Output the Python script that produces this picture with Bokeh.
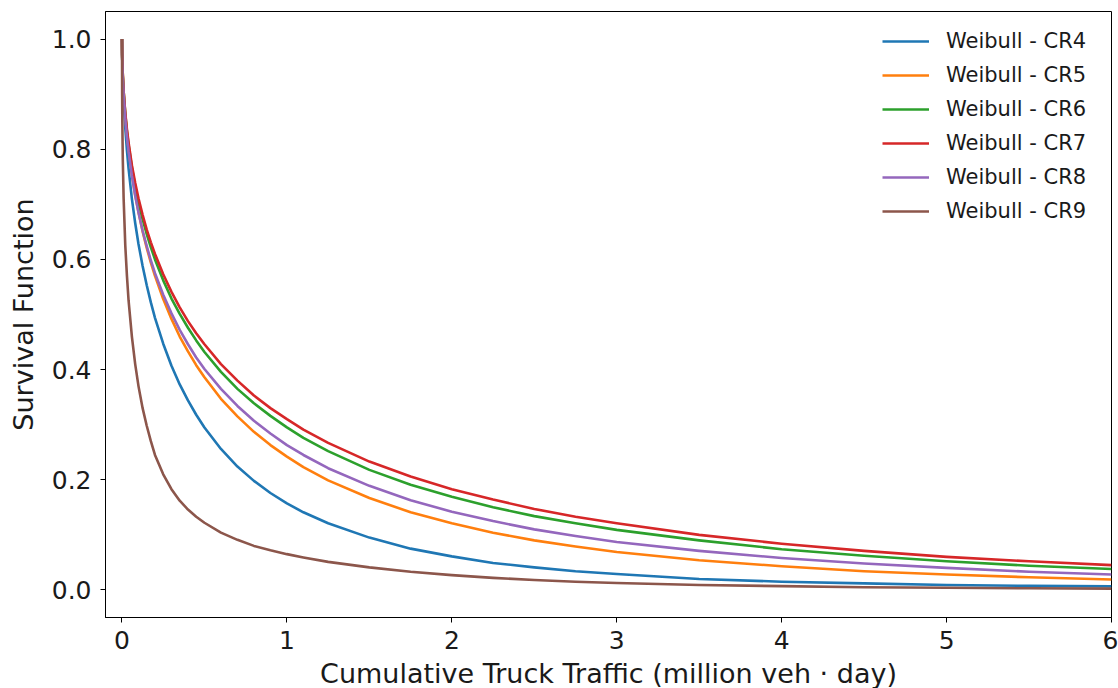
from bokeh.plotting import figure
from bokeh.models import Range1d, FixedTicker, NumeralTickFormatter, Legend, LegendItem
from bokeh.embed import file_html
from bokeh.resources import INLINE

# Cumulative truck traffic (million veh · day)
x = [0.0, 0.001, 0.002, 0.005, 0.01, 0.02, 0.03, 0.04, 0.06, 0.08,
     0.1, 0.125, 0.15, 0.175, 0.2, 0.25, 0.3, 0.35, 0.4, 0.45,
     0.5, 0.6, 0.7, 0.8, 0.9, 1.0, 1.1, 1.25, 1.5, 1.75,
     2.0, 2.25, 2.5, 2.75, 3.0, 3.5, 4.0, 4.5, 5.0, 5.5, 6.0]

# Survival function, one list per series
cr4 = [1.0, 0.971, 0.957, 0.926, 0.890, 0.838, 0.798, 0.765, 0.710, 0.666,
       0.628, 0.588, 0.553, 0.522, 0.494, 0.447, 0.407, 0.373, 0.344, 0.318,
       0.295, 0.256, 0.224, 0.198, 0.176, 0.157, 0.141, 0.121, 0.095, 0.075,
       0.061, 0.049, 0.041, 0.034, 0.029, 0.020, 0.015, 0.012, 0.009, 0.0075, 0.0065]
cr5 = [1.0, 0.974, 0.961, 0.935, 0.904, 0.861, 0.828, 0.800, 0.755, 0.717,
       0.686, 0.651, 0.621, 0.594, 0.570, 0.528, 0.492, 0.460, 0.433, 0.408,
       0.386, 0.347, 0.315, 0.287, 0.263, 0.242, 0.223, 0.199, 0.167, 0.141,
       0.121, 0.104, 0.090, 0.079, 0.069, 0.054, 0.043, 0.034, 0.028, 0.023, 0.019]
cr6 = [1.0, 0.972, 0.959, 0.933, 0.904, 0.864, 0.833, 0.808, 0.767, 0.733,
       0.704, 0.673, 0.646, 0.622, 0.600, 0.562, 0.529, 0.501, 0.476, 0.453,
       0.432, 0.396, 0.365, 0.339, 0.316, 0.295, 0.276, 0.252, 0.218, 0.191,
       0.169, 0.150, 0.134, 0.121, 0.109, 0.090, 0.074, 0.062, 0.052, 0.044, 0.038]
cr7 = [1.0, 0.972, 0.959, 0.934, 0.905, 0.866, 0.836, 0.812, 0.771, 0.739,
       0.711, 0.681, 0.654, 0.631, 0.610, 0.573, 0.541, 0.513, 0.488, 0.466,
       0.446, 0.410, 0.380, 0.353, 0.330, 0.310, 0.291, 0.267, 0.233, 0.206,
       0.183, 0.164, 0.147, 0.133, 0.121, 0.100, 0.084, 0.071, 0.060, 0.052, 0.045]
cr8 = [1.0, 0.970, 0.957, 0.929, 0.899, 0.855, 0.823, 0.796, 0.752, 0.716,
       0.685, 0.652, 0.624, 0.598, 0.575, 0.536, 0.502, 0.472, 0.446, 0.422,
       0.401, 0.365, 0.334, 0.307, 0.284, 0.263, 0.245, 0.221, 0.189, 0.163,
       0.142, 0.125, 0.110, 0.098, 0.087, 0.071, 0.058, 0.048, 0.040, 0.033, 0.028]
cr9 = [1.0, 0.90, 0.85, 0.78, 0.71, 0.625, 0.57, 0.525, 0.46, 0.41,
       0.37, 0.33, 0.298, 0.27, 0.245, 0.21, 0.183, 0.162, 0.146, 0.133,
       0.122, 0.104, 0.091, 0.080, 0.072, 0.065, 0.059, 0.051, 0.041, 0.033,
       0.027, 0.022, 0.018, 0.015, 0.0125, 0.009, 0.007, 0.005, 0.004, 0.003, 0.0025]

series = [("Weibull - CR4", cr4), ("Weibull - CR5", cr5), ("Weibull - CR6", cr6),
          ("Weibull - CR7", cr7), ("Weibull - CR8", cr8), ("Weibull - CR9", cr9)]
colors = ["#1f77b4", "#ff7f0e", "#2ca02c", "#d62728", "#9467bd", "#8c564b"]
x_ticks = [0, 1, 2, 3, 4, 5, 6]
y_ticks = [0.0, 0.2, 0.4, 0.6, 0.8, 1.0]

FONT = "DejaVu Sans"
TXT = "#1a1a1a"

p = figure(frame_width=1006, frame_height=606, output_backend="svg", toolbar_location=None,
           x_range=Range1d(-0.1, 6.0), y_range=Range1d(-0.05, 1.05),
           min_border_left=105, min_border_right=7, min_border_top=11, min_border_bottom=71,
           background_fill_color="white", border_fill_color="white")
p.grid.visible = False
p.outline_line_color = "#000000"
p.outline_line_width = 1

items = []
for (name, ys), c in zip(series, colors):
    r = p.line(x, ys, line_color=c, line_width=2.6, line_join="round")
    items.append(LegendItem(label=name, renderers=[r]))

for ax in (p.xaxis[0], p.yaxis[0]):
    ax.axis_line_color = "#000000"
    ax.major_tick_line_color = "#000000"
    ax.major_tick_in = 0
    ax.major_tick_out = 5
    ax.minor_tick_line_color = None
    ax.major_label_text_font = FONT
    ax.major_label_text_font_size = "25px"
    ax.major_label_text_color = TXT
    ax.axis_label_text_font = FONT
    ax.axis_label_text_font_size = "27px"
    ax.axis_label_text_font_style = "normal"
    ax.axis_label_text_color = TXT

p.xaxis.ticker = FixedTicker(ticks=x_ticks)
p.yaxis.ticker = FixedTicker(ticks=y_ticks)
p.yaxis.formatter = NumeralTickFormatter(format="0.0")
p.xaxis.axis_label = "Cumulative Truck Traffic (million veh \u00b7 day)"
p.yaxis.axis_label = "Survival Function"
p.xaxis.major_label_standoff = 8
p.yaxis.major_label_standoff = 9
p.xaxis.axis_label_standoff = 6
p.yaxis.axis_label_standoff = 10

legend = Legend(items=items, location=(777, 389), margin=0, padding=5, spacing=0,
                glyph_width=47, glyph_height=34, label_height=34, label_standoff=17,
                label_text_font=FONT, label_text_font_size="21px", label_text_color=TXT,
                border_line_color=None, background_fill_alpha=0)
p.add_layout(legend, "center")

open("out.html", "w").write(file_html(p, INLINE))
